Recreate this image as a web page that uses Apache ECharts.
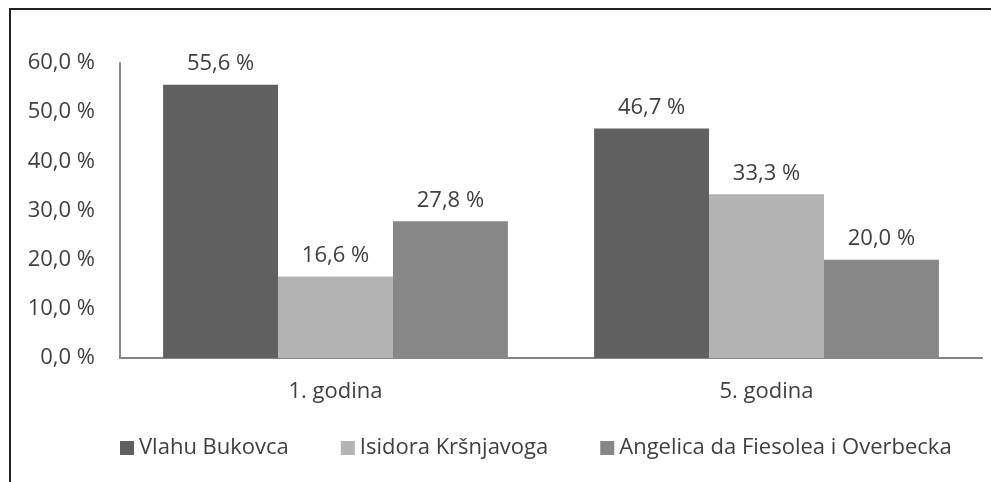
<!DOCTYPE html>
<html>
<head>
<meta charset="utf-8">
<script src="https://cdn.jsdelivr.net/npm/echarts@6/dist/echarts.min.js"></script>
<style>
  html, body { margin: 0; padding: 0; background: #fff; }
  #chart { width: 991px; height: 482px; }
  .frame {
    position: absolute; left: 9px; top: 8px; width: 990px; height: 480px;
    border-top: 2px solid #222; border-left: 2px solid #222; pointer-events: none;
  }
</style>
</head>
<body>
<div id="chart"></div>
<div class="frame"></div>
<script>
const categories = ["1. godina", "5. godina"];
const seriesNames = ["Vlahu Bukovca", "Isidora Kršnjavoga", "Angelica da Fiesolea i Overbecka"];
const vlahu = [55.6, 46.7];
const isidora = [16.6, 33.3];
const angelica = [27.8, 20.0];
const colors = ["#606060", "#b3b3b3", "#878787"];

const font = "'Open Sans', 'Liberation Sans', sans-serif";
const pct = v => v.toFixed(1).replace(".", ",") + " %";

let chart = echarts.init(document.getElementById("chart"));
let values = [vlahu, isidora, angelica];

let option = {
  animation: false,
  textStyle: { fontFamily: font },
  grid: { left: 120, right: 9, top: 63, bottom: 124 },
  legend: {
    left: 115,
    top: 432,
    itemWidth: 14,
    itemHeight: 14,
    itemGap: 52,
    icon: "rect",
    textStyle: { fontSize: 22, color: "#404040", fontFamily: font },
    data: seriesNames
  },
  xAxis: {
    type: "category",
    data: categories,
    axisLine: { lineStyle: { color: "#868686", width: 2 } },
    axisTick: { show: false },
    axisLabel: { fontSize: 22, color: "#404040", margin: 23 }
  },
  yAxis: {
    type: "value",
    min: 0,
    max: 60,
    interval: 10,
    splitLine: { show: false },
    axisLine: { show: true, lineStyle: { color: "#868686", width: 2 } },
    axisTick: { show: false },
    axisLabel: { fontSize: 22, color: "#404040", margin: 25, formatter: pct }
  },
  series: seriesNames.map((name, i) => ({
    name: name,
    type: "bar",
    data: values[i],
    barGap: 0,
    barCategoryGap: "20%",
    itemStyle: { color: colors[i] },
    label: {
      show: true,
      position: "top",
      distance: 10,
      fontSize: 22,
      color: "#404040",
      formatter: p => pct(p.value)
    }
  }))
};
chart.setOption(option);
</script>
</body>
</html>
